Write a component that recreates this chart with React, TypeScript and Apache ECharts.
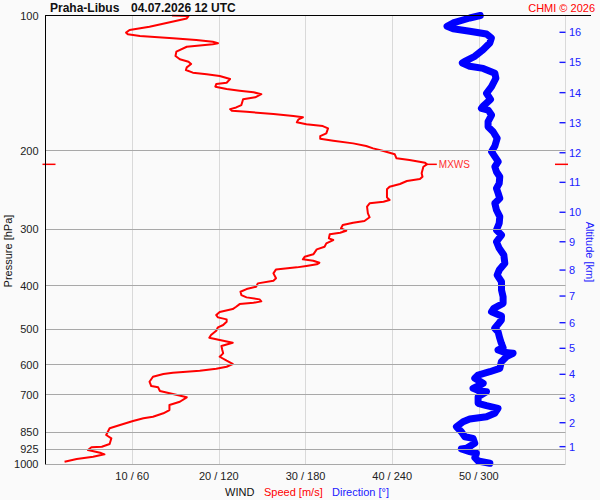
import React, { useEffect, useRef } from 'react';
import * as echarts from 'echarts';

const FONT = '"Liberation Sans", Arial, Helvetica, sans-serif';

// Pressure levels (hPa) shown on the left axis
const pressureLevels = [100, 200, 300, 400, 500, 600, 700, 850, 925, 1000];

// Bottom axis tick labels (speed m/s / direction deg)
const speedTicks = [10, 20, 30, 40, 50];
const speedTickLabels = ['10 / 60', '20 / 120', '30 / 180', '40 / 240', '50 / 300'];

// Altitude ticks on the right axis (km) and the pressure (hPa) they correspond to
const altitudeKm = [1, 2, 3, 4, 5, 6, 7, 8, 9, 10, 11, 12, 13, 14, 15, 16];
const altitudePressure = [914.8, 809.0, 713.8, 631.0, 552.2, 484.1, 422.2, 369.5, 319.5, 274.6, 235.5, 202.3, 173.4, 148.6, 127.2, 109.0];

// Wind speed profile: pressure (hPa) and speed (m/s)
const speedPressure = [
  100, 100.3, 101.5, 105.9, 107.7, 109.2, 110.1, 111.1, 112.4, 113.4, 114.4, 115.3, 115.9, 117.4, 120.4, 123.1,
  125.2, 126.8, 128.3, 130.5, 132.3, 134.1, 135.2, 136.4, 138.6, 141.2, 142.1, 144.1, 145.8, 147.1, 148.3, 149.8,
  152.2, 153.7, 158.4, 160.3, 161.7, 163.1, 163.9, 165.9, 167.5, 168.7, 170.4, 173.0, 174.8, 176.4, 178.5, 183.1,
  185.7, 188.3, 190.2, 192.8, 195.4, 197.8, 200.5, 203.9, 208.2, 210.0, 212.9, 214.7, 217.4, 224.8, 228.8, 231.5,
  233.9, 237.5, 240.9, 244.1, 254.4, 257.9, 260.2, 262.3, 266.9, 276.1, 281.8, 287.2, 289.7, 293.2, 298.2, 301.9,
  305.0, 307.5, 313.9, 316.7, 322.1, 327.8, 332.2, 340.8, 345.1, 349.7, 352.2, 355.9, 358.8, 361.9, 364.4, 368.2,
  375.8, 385.5, 390.3, 395.6, 402.5, 407.3, 413.0, 420.1, 425.1, 429.5, 433.9, 437.0, 440.0, 446.1, 451.4, 458.4,
  465.5, 471.0, 475.9, 481.7, 489.9, 495.7, 504.4, 515.7, 522.9, 529.1, 536.5, 545.7, 557.0, 566.6, 576.6, 588.5,
  598.4, 606.9, 613.1, 619.5, 625.8, 630.0, 638.9, 655.5, 670.1, 674.6, 687.5, 698.2, 710.2, 726.4, 738.9, 758.0,
  770.9, 784.6, 790.9, 802.0, 818.5, 832.6, 861.7, 876.5, 902.5, 915.1, 917.9, 930.7, 943.7, 951.5, 963.2, 974.7,
  988.3,
];
const speedValues = [
  14.6, 16.5, 16.3, 12.0, 9.7, 9.3, 9.5, 10.9, 14.7, 17.4, 19.3, 19.9, 19.3, 16.3, 15.1, 15.0,
  15.5, 16.5, 16.8, 16.3, 16.2, 17.0, 18.6, 20.1, 21.3, 20.9, 19.7, 19.6, 20.9, 22.4, 24.0, 24.9,
  24.2, 22.8, 22.6, 22.0, 21.3, 21.5, 23.2, 26.3, 28.6, 29.7, 29.2, 29.0, 30.1, 32.0, 32.6, 32.4,
  31.7, 31.7, 33.2, 35.5, 37.0, 37.8, 39.0, 40.3, 40.5, 42.0, 43.8, 44.0, 43.6, 43.4, 43.5, 43.2,
  41.7, 40.9, 39.7, 39.4, 39.4, 39.7, 39.0, 37.4, 37.1, 37.2, 37.4, 36.8, 35.5, 34.3, 34.1, 34.7,
  34.0, 32.8, 32.7, 33.2, 32.4, 32.2, 31.3, 30.9, 29.9, 29.7, 30.9, 31.6, 31.3, 30.1, 29.0, 26.6,
  26.3, 26.6, 26.3, 24.5, 24.3, 23.2, 22.5, 22.6, 23.2, 24.7, 24.9, 24.0, 22.4, 22.0, 21.6, 20.1,
  19.7, 19.9, 20.9, 20.9, 20.5, 19.9, 19.7, 19.1, 18.9, 20.1, 21.6, 20.3, 20.4, 20.5, 20.1, 20.9,
  21.6, 20.9, 19.7, 17.8, 14.7, 13.6, 12.4, 12.0, 12.2, 13.0, 13.2, 14.7, 16.3, 15.5, 14.3, 14.3,
  13.6, 12.4, 11.3, 10.1, 8.6, 7.4, 7.0, 7.6, 7.4, 6.5, 5.3, 4.9, 6.3, 6.8, 5.5, 3.6,
  2.2,
];

// Wind direction profile: pressure (hPa) and direction (deg)
const dirPressure = [
  100, 101.3, 103.9, 105.7, 107.0, 108.4, 110.0, 112.2, 115.2, 119.2, 123.3, 126.5, 127.6, 129.8, 131.2, 134.5,
  138.0, 144.1, 149.1, 153.8, 159.2, 161.1, 162.5, 166.7, 172.5, 177.0, 181.6, 187.9, 195.4, 201.2, 206.4, 211.8,
  217.4, 223.0, 228.8, 236.7, 242.9, 249.2, 255.7, 262.3, 271.5, 280.9, 290.6, 300.8, 308.7, 319.5, 330.4, 342.0,
  356.9, 369.5, 379.1, 392.3, 409.3, 423.7, 438.3, 449.7, 457.6, 467.8, 477.5, 488.1, 498.3, 507.0, 524.5, 538.2,
  550.5, 557.0, 563.7, 566.6, 576.5, 591.5, 611.9, 622.6, 633.3, 644.1, 660.9, 678.1, 687.5, 690.0, 707.9, 732.3,
  741.3, 751.3, 770.8, 784.4, 793.7, 804.8, 825.7, 847.2, 869.2, 876.5, 899.3, 922.4, 925.7, 938.6, 946.3, 967.9,
  984.7, 996.4,
];
const dirValues = [
  301.0, 293.7, 282.2, 278.0, 282.2, 293.7, 305.3, 308.7, 307.6, 302.9, 297.2, 290.3, 288.6, 293.7, 303.0, 311.1,
  311.8, 308.8, 305.3, 308.1, 303.0, 301.8, 306.4, 308.8, 306.4, 306.4, 309.9, 312.7, 311.1, 308.8, 311.1, 313.4,
  311.1, 312.2, 314.5, 314.1, 312.2, 313.4, 314.5, 311.1, 312.2, 314.5, 314.1, 312.2, 315.7, 312.2, 314.1, 317.3,
  318.0, 314.1, 312.7, 315.7, 315.7, 316.8, 316.8, 310.4, 308.8, 315.7, 315.6, 313.3, 311.0, 313.3, 314.5, 315.6,
  316.8, 313.3, 317.9, 323.7, 319.1, 315.6, 314.5, 307.6, 299.5, 297.2, 303.0, 296.0, 300.6, 305.3, 299.5, 299.5,
  305.3, 313.3, 311.0, 305.3, 293.7, 289.1, 284.5, 287.9, 290.3, 296.0, 297.2, 291.4, 287.9, 293.7, 298.3, 297.2,
  299.5, 307.6,
];

const maxIdx = speedValues.indexOf(Math.max(...speedValues));
const maxSpeed = speedValues[maxIdx];
const maxPressure = speedPressure[maxIdx];

function buildOption(): any {
  return {
    animation: false,
    backgroundColor: '#fafafa',
    textStyle: { fontFamily: FONT },
    grid: { left: 45.5, right: 34.5, top: 15.5, bottom: 36, containLabel: false, outerBoundsMode: 'none' },
    xAxis: [
      {
        type: 'value',
        min: 0,
        max: 60,
        interval: 10,
        position: 'bottom',
        axisLine: { show: false },
        axisTick: { show: false },
        axisLabel: {
          margin: 6,
          fontSize: 11,
          color: '#222',
          fontFamily: FONT,
          formatter: (v: number) => {
            const i = speedTicks.indexOf(v);
            return i >= 0 ? speedTickLabels[i] : '';
          },
        },
        splitLine: { show: true, lineStyle: { color: '#d9d9d9', width: 1 } },
      },
      {
        type: 'value',
        min: 0,
        max: 360,
        show: false,
        splitLine: { show: false },
      },
    ],
    yAxis: {
      type: 'log',
      logBase: 10,
      min: 100,
      max: 1000,
      inverse: true,
      z: 5,
      axisLine: { show: true, lineStyle: { color: '#000', width: 1 } },
      axisTick: { show: false },
      axisLabel: { show: false },
      splitLine: { show: false },
    },
    series: [
      {
        type: 'scatter',
        name: 'levels',
        xAxisIndex: 0,
        yAxisIndex: 0,
        symbolSize: 0,
        silent: true,
        z: 1,
        data: pressureLevels.map((p) => [0, p]),
        markLine: {
          silent: true,
          animation: false,
          symbol: ['none', 'none'],
          lineStyle: { color: '#a8a8a8', width: 1, type: 'solid' },
          label: {
            show: true,
            position: 'start',
            distance: 7,
            fontSize: 11,
            color: '#222',
            fontFamily: FONT,
            formatter: (p: any) => p.name,
          },
          emphasis: { disabled: true },
          data: pressureLevels.map((p) => ({ yAxis: p, name: String(p) })),
        },
        markPoint: {
          silent: true,
          animation: false,
          symbol: 'rect',
          symbolSize: [6, 1.4],
          symbolOffset: [-3, 0],
          itemStyle: { color: '#1a1aff' },
          label: {
            show: true,
            position: 'right',
            distance: 3.5,
            fontSize: 11,
            color: '#2020ff',
            fontFamily: FONT,
            formatter: (p: any) => p.name,
          },
          data: altitudePressure.map((p, i) => ({ coord: [60, p], name: String(altitudeKm[i]) })),
        },
      },
      {
        type: 'line',
        name: 'Direction',
        xAxisIndex: 1,
        yAxisIndex: 0,
        z: 3,
        silent: true,
        showSymbol: false,
        symbol: 'none',
        data: dirValues.map((d, i) => [d, dirPressure[i]]),
        lineStyle: { color: '#0000ff', width: 7, cap: 'round', join: 'round' },
        itemStyle: { color: '#0000ff' },
      },
      {
        type: 'line',
        name: 'Speed',
        xAxisIndex: 0,
        yAxisIndex: 0,
        z: 4,
        silent: true,
        showSymbol: false,
        symbol: 'none',
        data: speedValues.map((s, i) => [s, speedPressure[i]]),
        lineStyle: { color: '#ff0000', width: 2, join: 'round' },
        itemStyle: { color: '#ff0000' },
        markPoint: {
          silent: true,
          animation: false,
          symbol: 'rect',
          itemStyle: { color: '#ff0000' },
          label: { show: false },
          data: [
            {
              coord: [maxSpeed, maxPressure],
              symbolSize: [10, 1.5],
              symbolOffset: [5, 0],
              label: {
                show: true,
                position: 'right',
                distance: 2,
                formatter: 'MXWS',
                color: '#ff3030',
                fontSize: 10,
                fontFamily: FONT,
              },
            },
            { coord: [0, maxPressure], symbolSize: [13, 1.5], symbolOffset: [3.5, 0] },
            { coord: [60, maxPressure], symbolSize: [13, 1.5], symbolOffset: [-4, 0] },
          ],
        },
      },
    ],
    graphic: [
      {
        type: 'line',
        silent: true,
        z: 100,
        shape: { x1: 45.5, y1: 15.5, x2: 591, y2: 15.5 },
        style: { stroke: '#000', lineWidth: 1 },
      },
      {
        type: 'text',
        x: 50,
        y: 7.5,
        silent: true,
        style: { text: 'Praha-Libus', fontSize: 12, fontWeight: 'bold', fontFamily: FONT, fill: '#111', align: 'left', verticalAlign: 'middle' },
      },
      {
        type: 'text',
        x: 131,
        y: 7.5,
        silent: true,
        style: { text: '04.07.2026 12 UTC', fontSize: 12, fontWeight: 'bold', fontFamily: FONT, fill: '#111', align: 'left', verticalAlign: 'middle' },
      },
      {
        type: 'text',
        x: 595,
        y: 7.5,
        silent: true,
        style: { text: 'CHMI © 2026', fontSize: 11, fontFamily: FONT, fill: '#ff0000', align: 'right', verticalAlign: 'middle' },
      },
      {
        type: 'text',
        x: 225,
        y: 491.5,
        silent: true,
        style: { text: 'WIND', fontSize: 11, fontFamily: FONT, fill: '#111', align: 'left', verticalAlign: 'middle' },
      },
      {
        type: 'text',
        x: 264,
        y: 491.5,
        silent: true,
        style: { text: 'Speed [m/s]', fontSize: 11, fontFamily: FONT, fill: '#ff0000', align: 'left', verticalAlign: 'middle' },
      },
      {
        type: 'text',
        x: 332,
        y: 491.5,
        silent: true,
        style: { text: 'Direction [°]', fontSize: 11, fontFamily: FONT, fill: '#2020ff', align: 'left', verticalAlign: 'middle' },
      },
      {
        type: 'text',
        x: 8,
        y: 251,
        rotation: Math.PI / 2,
        silent: true,
        style: { text: 'Pressure [hPa]', fontSize: 11, fontFamily: FONT, fill: '#111', align: 'center', verticalAlign: 'middle' },
      },
      {
        type: 'text',
        x: 589.5,
        y: 252,
        rotation: -Math.PI / 2,
        silent: true,
        style: { text: 'Altitude [km]', fontSize: 11, fontFamily: FONT, fill: '#2020ff', align: 'center', verticalAlign: 'middle' },
      },
    ],
  };
}

export default function App() {
  const ref = useRef<HTMLDivElement>(null);
  useEffect(() => {
    if (!ref.current) return;
    const chart = echarts.init(ref.current, null, { renderer: 'svg' });
    chart.setOption(buildOption());
    return () => {
      chart.dispose();
    };
  }, []);
  return <div ref={ref} style={{ position: 'absolute', left: 0, top: 0, width: 600, height: 500 }} />;
}
